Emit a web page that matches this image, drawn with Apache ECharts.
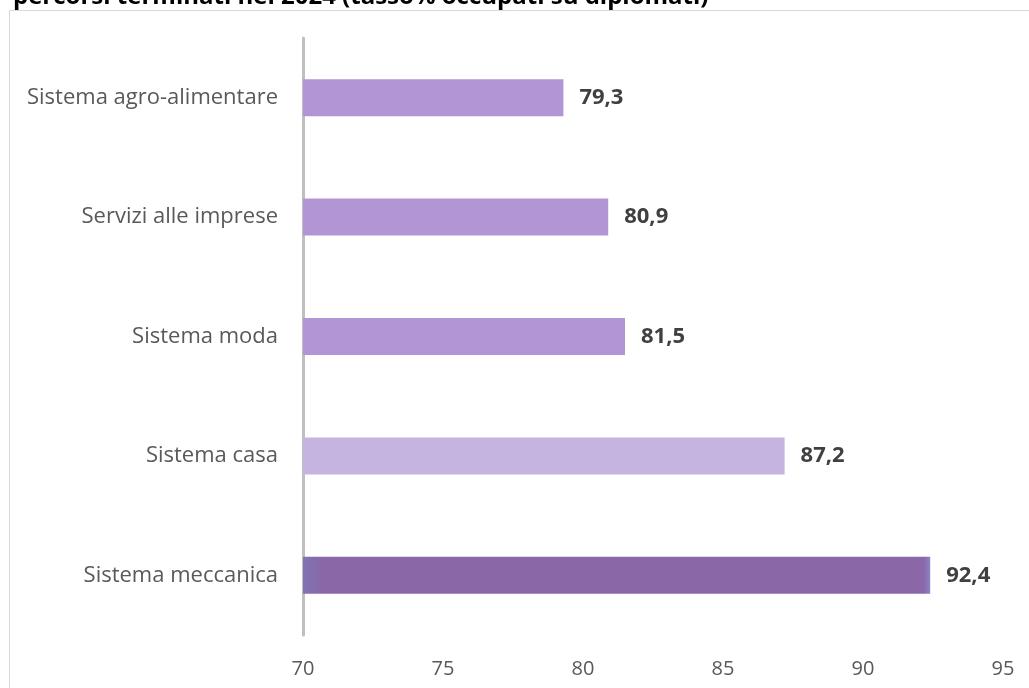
<!DOCTYPE html>
<html>
<head>
<meta charset="utf-8">
<script src="https://cdn.jsdelivr.net/npm/echarts@6/dist/echarts.min.js"></script>
<style>
html,body{margin:0;padding:0;background:#fff;}
#chart{width:1029px;height:688px;}
</style>
</head>
<body>
<div id="chart"></div>
<script>
// Employment rate of graduates by sector, courses ended in 2024
const titleText = 'percorsi terminati nel 2024 (tasso% occupati su diplomati)';
const categories = ['Sistema agro-alimentare', 'Servizi alle imprese', 'Sistema moda', 'Sistema casa', 'Sistema meccanica'];
const values = [79.3, 80.9, 81.5, 87.2, 92.4];
const barColors = ['#b195d5', '#b195d5', '#b195d5', '#c6b4e0', '#8a68a8'];
const axisMin = 70, axisMax = 95, axisStep = 5;

const chart = echarts.init(document.getElementById('chart'));

const seriesData = values.map((v, i) => ({
  value: v,
  itemStyle: {
    color: i === values.length - 1
      ? new echarts.graphic.LinearGradient(0, 0, 1, 0, [
          { offset: 0, color: '#8074b4' },
          { offset: 0.03, color: '#8a68a8' },
          { offset: 0.99, color: '#8a68a8' },
          { offset: 1, color: '#8a86c4' }
        ])
      : barColors[i]
  }
}));

chart.setOption({
  animation: false,
  title: {
    text: titleText,
    left: 8,
    top: -20,
    textStyle: { fontFamily: 'Open Sans', fontWeight: 'bold', fontSize: 24, color: '#000' }
  },
  graphic: [{
    type: 'rect',
    shape: { x: 9.5, y: 10.5, width: 1030, height: 690 },
    style: { fill: 'none', stroke: '#d9d9d9', lineWidth: 1 },
    z: -1
  }],
  grid: { left: 303, right: 26, top: 38, bottom: 53, containLabel: false },
  xAxis: {
    type: 'value',
    min: axisMin,
    max: axisMax,
    interval: axisStep,
    axisLine: { show: false },
    axisTick: { show: false },
    splitLine: { show: false },
    axisLabel: {
      margin: 24,
      fontFamily: 'Open Sans',
      fontSize: 20,
      color: '#595959'
    }
  },
  yAxis: {
    type: 'category',
    data: categories,
    inverse: true,
    axisLine: { show: true, lineStyle: { color: '#bfbfbf', width: 3 } },
    axisTick: { show: false },
    axisLabel: {
      margin: 25,
      fontFamily: 'Open Sans',
      fontSize: 22,
      color: '#595959'
    }
  },
  series: [{
    type: 'bar',
    data: seriesData,
    barWidth: 37,
    label: {
      show: true,
      position: 'right',
      distance: 16,
      formatter: p => p.value.toFixed(1).replace('.', ','),
      fontFamily: 'Open Sans',
      fontWeight: 'bold',
      fontSize: 22,
      color: '#404040'
    }
  }]
});
</script>
</body>
</html>
